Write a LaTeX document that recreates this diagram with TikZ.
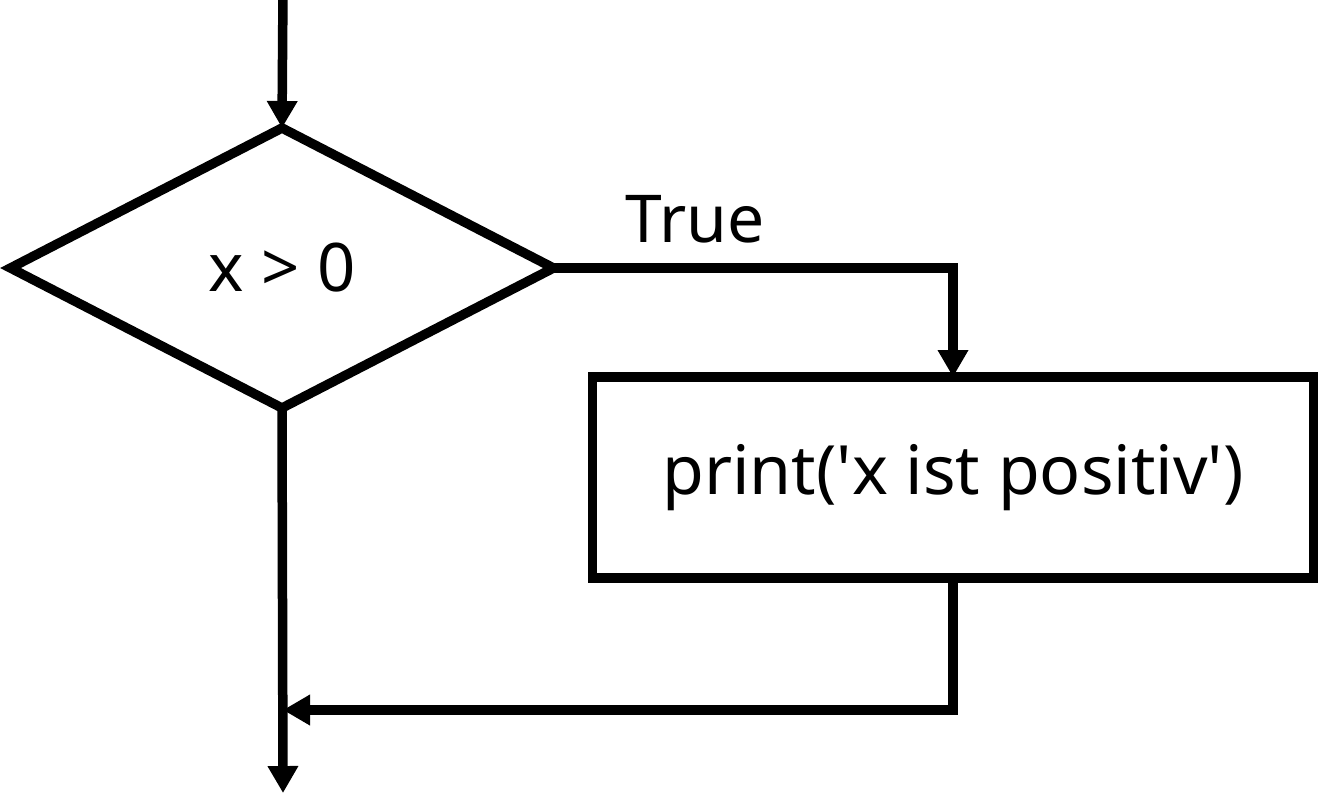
\documentclass[tikz,border=0pt]{standalone}
\usepackage{fontspec}
\setmainfont{Noto Sans}
\usetikzlibrary{shapes.geometric,arrows.meta}
\begin{document}
\begin{tikzpicture}[x=1pt,y=-1pt,
  flow/.style={line width=9.5pt,-{Triangle[width=29pt,length=27pt]}},
  decision/.style={draw,diamond,line width=9.5pt,line join=miter,minimum width=543pt,minimum height=280pt,inner sep=0pt,outer sep=0pt,font=\fontsize{67}{70}\selectfont},
  action/.style={draw,rectangle,line width=9.5pt,line join=miter,minimum width=721pt,minimum height=201pt,inner sep=0pt,outer sep=0pt,font=\fontsize{68}{72}\selectfont},
  lbl/.style={font=\fontsize{66}{70}\selectfont,inner sep=0pt}]
\useasboundingbox (0,0) rectangle (1321,796);
\coordinate (start) at (283,-10);
\node[decision] (cond) at (282,268) {x > 0};
\node[action] (act) at (953,477.5) {print(\textquotesingle x ist positiv\textquotesingle)};
\coordinate (bend) at (953,268);
\coordinate (merge) at (283,710);
\coordinate (endp) at (283,793);
\draw[flow] (start) -- (cond.north);
\draw[flow] (cond.east) -- (bend) -- (act.north);
\node[lbl] (true) at (695,219) {True};
\draw[flow] (cond.south) -- (endp);
\draw[flow] (act.south) |- (merge);
\end{tikzpicture}
\end{document}
